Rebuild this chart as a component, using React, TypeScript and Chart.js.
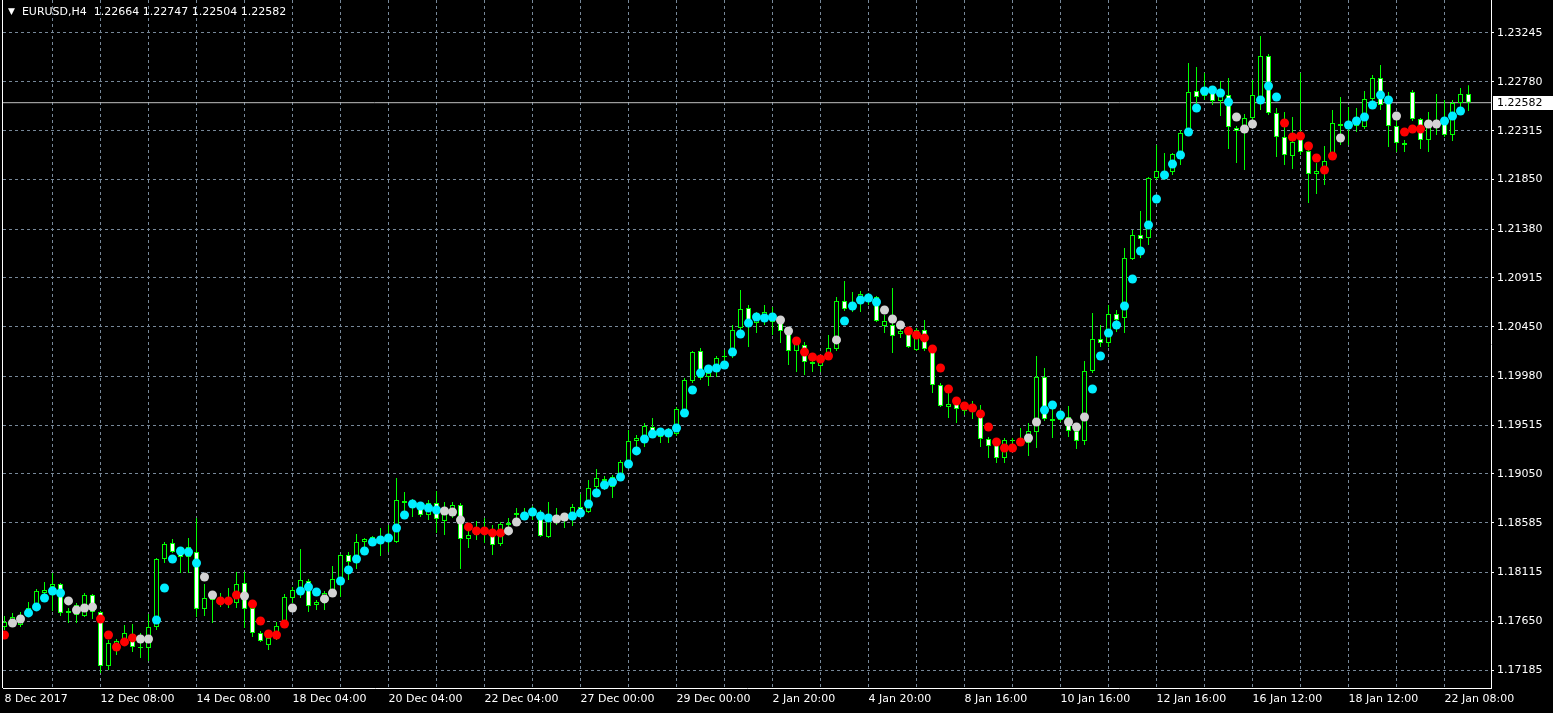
import React, { useEffect, useRef } from 'react';
import { Chart, registerables } from 'chart.js';

Chart.register(...registerables);

// ---------- header / symbol ----------
const symbolTitle = 'EURUSD,H4';
const headerOHLC = [1.22664, 1.22747, 1.22504, 1.22582];
const bidPrice = 1.22582;

// ---------- candles (H4 bars, oldest first) ----------
const open = [
  1.17594, 1.17642, 1.17613, 1.17708, 1.17785, 1.17918, 1.17975, 1.18003, 1.17728, 1.17708,
  1.17699, 1.17899, 1.17737, 1.17223, 1.17433, 1.17471, 1.17528, 1.17404, 1.17395, 1.17594,
  1.18241, 1.18393, 1.18308, 1.18260, 1.18308, 1.17766, 1.17899, 1.17851, 1.17842, 1.17823,
  1.18013, 1.17775, 1.17537, 1.17423, 1.17480, 1.17594, 1.17870, 1.17946, 1.18032, 1.17804,
  1.17823, 1.17899, 1.18041, 1.18279, 1.18203, 1.18403, 1.18422, 1.18412, 1.18422, 1.18403,
  1.18793, 1.18774, 1.18774, 1.18660, 1.18774, 1.18603, 1.18650, 1.18755, 1.18431, 1.18469,
  1.18489, 1.18469, 1.18384, 1.18565, 1.18660, 1.18650, 1.18669, 1.18631, 1.18450, 1.18584,
  1.18622, 1.18612, 1.18736, 1.18688, 1.18926, 1.19002, 1.18926, 1.19040, 1.19164, 1.19364,
  1.19411, 1.19497, 1.19440, 1.19411, 1.19430, 1.19659, 1.19934, 1.20220, 1.19973, 1.20087,
  1.20163, 1.20172, 1.20439, 1.20629, 1.20486, 1.20543, 1.20496, 1.20496, 1.20391, 1.20220,
  1.20277, 1.20096, 1.20077, 1.20163, 1.20239, 1.20696, 1.20638, 1.20677, 1.20743, 1.20734,
  1.20458, 1.20467, 1.20382, 1.20382, 1.20229, 1.20420, 1.20210, 1.19896, 1.19687, 1.19716,
  1.19649, 1.19659, 1.19659, 1.19383, 1.19345, 1.19202, 1.19364, 1.19364, 1.19345, 1.19449,
  1.19973, 1.19573, 1.19563, 1.19592, 1.19459, 1.19364, 1.20030, 1.20334, 1.20296, 1.20572,
  1.20534, 1.21095, 1.21323, 1.21295, 1.21866, 1.21904, 1.21923, 1.22103, 1.22294, 1.22693,
  1.22646, 1.22684, 1.22598, 1.22655, 1.22341, 1.22322, 1.22436, 1.22589, 1.23026, 1.22484,
  1.22256, 1.22075, 1.22256, 1.22122, 1.21904, 1.21904, 1.22084, 1.22360, 1.22360, 1.22436,
  1.22351, 1.22617, 1.22817, 1.22579, 1.22360, 1.22199, 1.22684, 1.22427, 1.22227, 1.22398,
  1.22398, 1.22275, 1.22579, 1.22664,
];
const high = [
  1.17699, 1.17728, 1.17737, 1.17832, 1.17956, 1.18022, 1.18108, 1.18013, 1.17775, 1.17823,
  1.17918, 1.17908, 1.17747, 1.17471, 1.17480, 1.17613, 1.17623, 1.17537, 1.17718, 1.18251,
  1.18403, 1.18431, 1.18336, 1.18441, 1.18631, 1.18003, 1.17918, 1.17918, 1.17965, 1.18118,
  1.18118, 1.17785, 1.17556, 1.17509, 1.17642, 1.17908, 1.17975, 1.18336, 1.18051, 1.17851,
  1.17937, 1.18175, 1.18289, 1.18308, 1.18479, 1.18441, 1.18460, 1.18536, 1.18565, 1.19012,
  1.18879, 1.18812, 1.18783, 1.18802, 1.18888, 1.18783, 1.18783, 1.18774, 1.18546, 1.18603,
  1.18631, 1.18565, 1.18593, 1.18631, 1.18726, 1.18726, 1.18745, 1.18707, 1.18783, 1.18726,
  1.18660, 1.18764, 1.18860, 1.18993, 1.19097, 1.19031, 1.19040, 1.19183, 1.19468, 1.19421,
  1.19535, 1.19583, 1.19468, 1.19487, 1.19687, 1.19963, 1.20220, 1.20248, 1.20030, 1.20172,
  1.20229, 1.20467, 1.20800, 1.20657, 1.20591, 1.20657, 1.20638, 1.20534, 1.20439, 1.20315,
  1.20306, 1.20153, 1.20163, 1.20372, 1.20734, 1.20886, 1.20781, 1.20791, 1.20772, 1.20743,
  1.20562, 1.20819, 1.20429, 1.20401, 1.20439, 1.20515, 1.20229, 1.19915, 1.19820, 1.19735,
  1.19716, 1.19744, 1.19706, 1.19402, 1.19373, 1.19392, 1.19392, 1.19487, 1.19535, 1.20172,
  1.20058, 1.19687, 1.19659, 1.19697, 1.19478, 1.20125, 1.20581, 1.20467, 1.20657, 1.20610,
  1.21200, 1.21371, 1.21552, 1.21875, 1.22180, 1.22103, 1.22103, 1.22322, 1.22960, 1.22922,
  1.22865, 1.22722, 1.22788, 1.22817, 1.22360, 1.22474, 1.22798, 1.23217, 1.23045, 1.22532,
  1.22494, 1.22446, 1.22865, 1.22132, 1.22008, 1.22170, 1.22513, 1.22636, 1.22541, 1.22532,
  1.22693, 1.22846, 1.22941, 1.22684, 1.22465, 1.22227, 1.22703, 1.22436, 1.22494, 1.22665,
  1.22608, 1.22608, 1.22722, 1.22747,
];
const low = [
  1.17566, 1.17594, 1.17594, 1.17699, 1.17775, 1.17880, 1.17747, 1.17699, 1.17632, 1.17632,
  1.17689, 1.17670, 1.17157, 1.17185, 1.17328, 1.17414, 1.17356, 1.17299, 1.17271, 1.17566,
  1.18203, 1.18298, 1.18108, 1.18108, 1.17689, 1.17699, 1.17632, 1.17785, 1.17775, 1.17775,
  1.17585, 1.17499, 1.17452, 1.17375, 1.17471, 1.17585, 1.17823, 1.17870, 1.17737, 1.17756,
  1.17756, 1.17880, 1.17880, 1.18041, 1.18146, 1.18346, 1.18374, 1.18270, 1.18308, 1.18393,
  1.18641, 1.18641, 1.18641, 1.18612, 1.18489, 1.18469, 1.18631, 1.18146, 1.18346, 1.18422,
  1.18393, 1.18279, 1.18365, 1.18536, 1.18565, 1.18612, 1.18612, 1.18450, 1.18441, 1.18565,
  1.18536, 1.18555, 1.18641, 1.18679, 1.18850, 1.18898, 1.18821, 1.19012, 1.19145, 1.19297,
  1.19307, 1.19411, 1.19345, 1.19345, 1.19411, 1.19630, 1.19915, 1.19944, 1.19887, 1.19973,
  1.20115, 1.20153, 1.20382, 1.20258, 1.20391, 1.20467, 1.20372, 1.20296, 1.20087, 1.20020,
  1.19992, 1.20020, 1.20020, 1.20144, 1.20220, 1.20600, 1.20591, 1.20591, 1.20657, 1.20496,
  1.20391, 1.20201, 1.20344, 1.20248, 1.20220, 1.20220, 1.19820, 1.19687, 1.19583, 1.19535,
  1.19611, 1.19573, 1.19307, 1.19202, 1.19154, 1.19154, 1.19335, 1.19326, 1.19221, 1.19297,
  1.19554, 1.19392, 1.19544, 1.19402, 1.19288, 1.19326, 1.20011, 1.20258, 1.20258, 1.20401,
  1.20391, 1.21086, 1.21105, 1.21228, 1.21847, 1.21847, 1.21894, 1.21989, 1.22275, 1.22513,
  1.22608, 1.22560, 1.22455, 1.22141, 1.22008, 1.21942, 1.22417, 1.22513, 1.22465, 1.22065,
  1.21989, 1.21951, 1.22084, 1.21628, 1.21713, 1.21799, 1.22037, 1.22180, 1.22180, 1.22303,
  1.22332, 1.22598, 1.22513, 1.22161, 1.22113, 1.22113, 1.22408, 1.22141, 1.22113, 1.22275,
  1.22256, 1.22218, 1.22541, 1.22504,
];
const close = [
  1.17642, 1.17689, 1.17708, 1.17775, 1.17937, 1.17946, 1.18003, 1.17728, 1.17747, 1.17804,
  1.17899, 1.17737, 1.17223, 1.17442, 1.17461, 1.17537, 1.17404, 1.17395, 1.17594, 1.18241,
  1.18384, 1.18308, 1.18260, 1.18355, 1.17766, 1.17870, 1.17851, 1.17842, 1.17851, 1.18003,
  1.17766, 1.17537, 1.17461, 1.17490, 1.17604, 1.17880, 1.17946, 1.18041, 1.17794, 1.17832,
  1.17918, 1.18051, 1.18279, 1.18213, 1.18403, 1.18431, 1.18450, 1.18460, 1.18450, 1.18802,
  1.18774, 1.18755, 1.18660, 1.18774, 1.18622, 1.18679, 1.18755, 1.18431, 1.18469, 1.18536,
  1.18508, 1.18374, 1.18574, 1.18584, 1.18679, 1.18679, 1.18688, 1.18460, 1.18612, 1.18660,
  1.18641, 1.18736, 1.18707, 1.18917, 1.19012, 1.18983, 1.19021, 1.19164, 1.19364, 1.19392,
  1.19506, 1.19449, 1.19402, 1.19430, 1.19668, 1.19944, 1.20210, 1.19963, 1.20011, 1.20153,
  1.20172, 1.20420, 1.20619, 1.20486, 1.20562, 1.20591, 1.20581, 1.20410, 1.20220, 1.20287,
  1.20115, 1.20115, 1.20134, 1.20248, 1.20696, 1.20619, 1.20677, 1.20762, 1.20734, 1.20505,
  1.20505, 1.20363, 1.20410, 1.20258, 1.20420, 1.20239, 1.19896, 1.19697, 1.19716, 1.19668,
  1.19678, 1.19697, 1.19383, 1.19316, 1.19202, 1.19373, 1.19373, 1.19392, 1.19459, 1.19973,
  1.19573, 1.19554, 1.19592, 1.19459, 1.19364, 1.20030, 1.20334, 1.20296, 1.20572, 1.20515,
  1.21105, 1.21323, 1.21285, 1.21866, 1.21932, 1.21913, 1.22094, 1.22294, 1.22684, 1.22636,
  1.22684, 1.22598, 1.22646, 1.22351, 1.22313, 1.22436, 1.22655, 1.23026, 1.22484, 1.22256,
  1.22084, 1.22208, 1.22113, 1.21904, 1.21932, 1.22027, 1.22389, 1.22379, 1.22389, 1.22360,
  1.22617, 1.22817, 1.22560, 1.22360, 1.22199, 1.22180, 1.22427, 1.22227, 1.22417, 1.22417,
  1.22275, 1.22579, 1.22665, 1.22582,
];

// ---------- indicator dots ----------
const trendDot = [
  1.17518, 1.17632, 1.17670, 1.17728, 1.17785, 1.17870, 1.17937, 1.17918, 1.17842, 1.17756,
  1.17775, 1.17785, 1.17670, 1.17518, 1.17404, 1.17452, 1.17490, 1.17480, 1.17480, 1.17661,
  1.17965, 1.18241, 1.18317, 1.18308, 1.18203, 1.18070, 1.17899, 1.17842, 1.17842, 1.17899,
  1.17889, 1.17813, 1.17651, 1.17528, 1.17518, 1.17623, 1.17775, 1.17937, 1.17975, 1.17927,
  1.17861, 1.17918, 1.18032, 1.18137, 1.18241, 1.18317, 1.18403, 1.18422, 1.18441, 1.18536,
  1.18660, 1.18764, 1.18745, 1.18726, 1.18707, 1.18698, 1.18688, 1.18612, 1.18546, 1.18508,
  1.18508, 1.18489, 1.18489, 1.18508, 1.18593, 1.18650, 1.18688, 1.18650, 1.18631, 1.18622,
  1.18641, 1.18650, 1.18679, 1.18764, 1.18869, 1.18945, 1.18974, 1.19021, 1.19145, 1.19269,
  1.19383, 1.19430, 1.19449, 1.19440, 1.19487, 1.19630, 1.19849, 1.20011, 1.20049, 1.20058,
  1.20087, 1.20210, 1.20382, 1.20486, 1.20543, 1.20534, 1.20543, 1.20515, 1.20410, 1.20315,
  1.20210, 1.20163, 1.20144, 1.20172, 1.20325, 1.20505, 1.20648, 1.20705, 1.20724, 1.20686,
  1.20610, 1.20524, 1.20467, 1.20410, 1.20372, 1.20344, 1.20239, 1.20058, 1.19858, 1.19744,
  1.19697, 1.19678, 1.19621, 1.19497, 1.19354, 1.19297, 1.19297, 1.19354, 1.19392, 1.19544,
  1.19659, 1.19706, 1.19611, 1.19544, 1.19497, 1.19592, 1.19858, 1.20172, 1.20391, 1.20467,
  1.20648, 1.20905, 1.21171, 1.21418, 1.21666, 1.21894, 1.21999, 1.22084, 1.22303, 1.22532,
  1.22693, 1.22703, 1.22674, 1.22589, 1.22446, 1.22332, 1.22379, 1.22608, 1.22741, 1.22636,
  1.22389, 1.22256, 1.22265, 1.22170, 1.22056, 1.21942, 1.22075, 1.22246, 1.22370, 1.22408,
  1.22446, 1.22560, 1.22655, 1.22608, 1.22455, 1.22303, 1.22332, 1.22332, 1.22379, 1.22379,
  1.22408, 1.22455, 1.22503, null,
];
// c = rising (aqua), r = falling (red), g = flat (silver), - = none
const trendState = (
  'rggcccccgg' + 'ggrrrrrggc' + 'cccccggrrr' + 'grrrrrgccc' + 'ggcccccccc' +
  'cccccgggrr' + 'rrrggccccg' + 'gccccccccc' + 'cccccccccc' + 'cccccccggr' +
  'rrrrgccccc' + 'gggrrrrrrr' + 'rrrrrrrrgg' + 'cccgggcccc' + 'cccccccccc' +
  'ccccgggccc' + 'rrrrrrrgcc' + 'ccccgrrrgg' + 'ccc-'
).split('');

// ---------- axes ----------
const xLabelBars = [0, 12, 24, 36, 48, 60, 72, 84, 96, 108, 120, 132, 144, 156, 168, 180];
const xLabels = [
  '8 Dec 2017', '12 Dec 08:00', '14 Dec 08:00', '18 Dec 04:00', '20 Dec 04:00', '22 Dec 04:00',
  '27 Dec 00:00', '29 Dec 00:00', '2 Jan 20:00', '4 Jan 20:00', '8 Jan 16:00', '10 Jan 16:00',
  '12 Jan 16:00', '16 Jan 12:00', '18 Jan 12:00', '22 Jan 08:00',
];
const xGridBars = [0, 6, 12, 18, 24, 30, 36, 42, 48, 54, 60, 66, 72, 78, 84, 90, 96, 102, 108, 114,
  120, 126, 132, 138, 144, 150, 156, 162, 168, 174, 180];
const yTicks = [1.17185, 1.17650, 1.18115, 1.18585, 1.19050, 1.19515, 1.19980, 1.20450, 1.20915,
  1.21380, 1.21850, 1.22315, 1.22780, 1.23245];
const yAxisMin = 1.1701376;
const yAxisMax = 1.2355894;
const xAxisMin = -0.1875;
const xAxisMax = 185.8125;

const FONT = '"DejaVu Sans", sans-serif';
const CANDLE_GREEN = '#00FF00';
const GRID = '#778899';
const DOT_COLOR: Record<string, string> = { c: '#00EEFF', r: '#FF0000', g: '#D3D3D3', '-': 'rgba(0,0,0,0)' };

const frameAndBid = {
  id: 'frameAndBid',
  afterDraw(chart: any) {
    const { ctx, chartArea, scales } = chart;
    ctx.save();
    // left frame line
    ctx.fillStyle = '#FFFFFF';
    ctx.fillRect(chartArea.left - 1, chartArea.top, 1, chartArea.bottom - chartArea.top);
    // bid price label box
    const y = Math.round(scales.y.getPixelForValue(bidPrice));
    ctx.fillStyle = '#FFFFFF';
    ctx.fillRect(chartArea.right + 2, y - 7, 70, 14);
    ctx.fillStyle = '#000000';
    ctx.font = '11px ' + FONT;
    ctx.textBaseline = 'middle';
    ctx.textAlign = 'left';
    ctx.fillText(bidPrice.toFixed(5), chartArea.right + 6, y + 0.5);
    ctx.restore();
  },
};

export default function App() {
  const ref = useRef<HTMLCanvasElement | null>(null);

  useEffect(() => {
    const idx = open.map((_, i) => i);
    const chart = new Chart(ref.current as HTMLCanvasElement, {
      type: 'bar',
      data: {
        datasets: [
          {
            type: 'line',
            label: 'trend',
            data: idx.map((i) => ({ x: i, y: trendDot[i] })),
            showLine: false,
            pointRadius: 4.5,
            pointHoverRadius: 4.5,
            pointBorderWidth: 0,
            pointBackgroundColor: idx.map((i) => DOT_COLOR[trendState[i]]),
            order: 0,
          } as any,
          {
            label: 'body',
            data: idx.map((i) => ({ x: i, y: [open[i], close[i]] })),
            backgroundColor: idx.map((i) => (close[i] >= open[i] ? '#000000' : '#FFFFFF')),
            borderColor: CANDLE_GREEN,
            borderWidth: 1,
            borderSkipped: false,
            barThickness: 5,
            minBarLength: 1,
            grouped: false,
            inflateAmount: 0,
            order: 1,
          } as any,
          {
            label: 'wick',
            data: idx.map((i) => ({ x: i, y: [low[i], high[i]] })),
            backgroundColor: CANDLE_GREEN,
            borderWidth: 0,
            barThickness: 1,
            grouped: false,
            inflateAmount: 0,
            order: 2,
          } as any,
          {
            type: 'line',
            label: 'bid',
            data: [
              { x: xAxisMin - 2, y: bidPrice },
              { x: xAxisMax + 2, y: bidPrice },
            ],
            borderColor: '#C0C0C0',
            borderWidth: 1,
            pointRadius: 0,
            order: 3,
          } as any,
        ],
      },
      options: {
        responsive: false,
        animation: false,
        devicePixelRatio: 1,
        events: [],
        layout: { autoPadding: false, padding: { left: 3, top: 0, right: 0, bottom: 0 } },
        plugins: { legend: { display: false }, tooltip: { enabled: false }, title: { display: false } },
        scales: {
          x: {
            type: 'linear',
            position: 'bottom',
            min: xAxisMin,
            max: xAxisMax,
            offset: false,
            afterBuildTicks: (s: any) => {
              s.ticks = xGridBars.map((v) => ({ value: v }));
            },
            afterFit: (s: any) => {
              s.height = 25;
              s.paddingLeft = 0;
              s.paddingRight = 0;
            },
            ticks: {
              autoSkip: false,
              maxRotation: 0,
              minRotation: 0,
              align: 'start',
              padding: 5,
              color: '#FFFFFF',
              font: { family: FONT, size: 11 },
              callback: (v: any) => {
                const k = xLabelBars.indexOf(Number(v));
                return k >= 0 ? xLabels[k] : '';
              },
            },
            grid: {
              offset: false,
              drawTicks: false,
              color: (c: any) => (c.tick && c.tick.value === 0 ? 'rgba(0,0,0,0)' : GRID),
              lineWidth: 1,
            },
            border: { display: true, color: '#FFFFFF', width: 1, dash: [3, 3] },
          } as any,
          y: {
            type: 'linear',
            position: 'right',
            min: yAxisMin,
            max: yAxisMax,
            afterBuildTicks: (s: any) => {
              s.ticks = yTicks.map((v) => ({ value: v }));
            },
            afterFit: (s: any) => {
              s.width = 62;
              s.paddingTop = 0;
              s.paddingBottom = 0;
            },
            ticks: {
              color: '#FFFFFF',
              padding: 3,
              font: { family: FONT, size: 11 },
              callback: (v: any) => Number(v).toFixed(5),
            },
            grid: {
              color: GRID,
              tickColor: '#FFFFFF',
              tickLength: 3,
              drawTicks: true,
              lineWidth: 1,
            },
            border: { display: true, color: '#FFFFFF', width: 1, dash: [3, 3] },
          } as any,
        },
      },
      plugins: [frameAndBid],
    });
    return () => chart.destroy();
  }, []);

  return (
    <div
      style={{
        position: 'fixed',
        left: 0,
        top: 0,
        width: 1553,
        height: 713,
        background: '#000000',
        overflow: 'hidden',
      }}
    >
      <canvas ref={ref} width={1553} height={713} style={{ display: 'block', width: 1553, height: 713 }} />
      <div
        style={{
          position: 'absolute',
          left: 8,
          top: 5,
          color: '#FFFFFF',
          font: '11px ' + FONT,
          whiteSpace: 'pre',
          lineHeight: '13px',
        }}
      >
        <span style={{ fontSize: 9, verticalAlign: '1px' }}>▼</span>
        {'  ' + symbolTitle + '  ' + headerOHLC.map((v) => v.toFixed(5)).join(' ')}
      </div>
    </div>
  );
}
